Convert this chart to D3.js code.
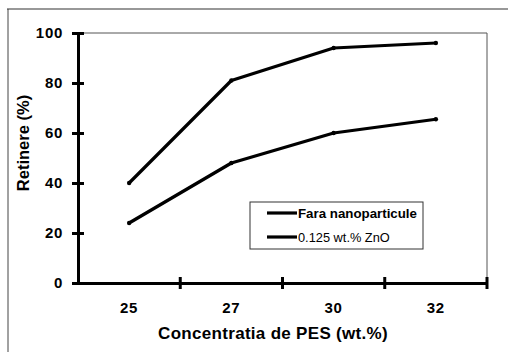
<!DOCTYPE html>
<html>
<head>
<meta charset="utf-8">
<script src="https://cdn.jsdelivr.net/npm/d3@7"></script>
<style>
  html, body { margin: 0; padding: 0; background: #fff; }
  svg { display: block; font-family: "Liberation Sans", Arial, sans-serif; }
</style>
</head>
<body>
<svg id="chart" width="508" height="352"></svg>
<script>
// Concentration of PES (wt.%) on the x axis
const categories = ["25", "27", "30", "32"];
// Retention (%) for each membrane series
const seriesNames = ["Fara nanoparticule", "0.125 wt.% ZnO"];
const upperValues = [40, 81, 94, 96];
const lowerValues = [24, 48, 60, 65.5];
const yTicks = [0, 20, 40, 60, 80, 100];

const svg = d3.select("#chart");
const plotLeft = 78, plotRight = 487, plotTop = 33, plotBottom = 283;

const x = d3.scaleBand().domain(categories).range([plotLeft, plotRight]).padding(0);
const y = d3.scaleLinear().domain([0, 100]).range([plotBottom, plotTop]);

// outer frame (left and top edges)
svg.append("line").attr("x1", 8).attr("x2", 8).attr("y1", 9).attr("y2", 352)
  .attr("stroke", "#444").attr("stroke-width", 1);
svg.append("line").attr("x1", 7).attr("x2", 508).attr("y1", 9).attr("y2", 9)
  .attr("stroke", "#333").attr("stroke-width", 1.2);

// plot area border (top and right)
svg.append("line").attr("x1", plotLeft).attr("x2", plotRight).attr("y1", plotTop).attr("y2", plotTop)
  .attr("stroke", "#555").attr("stroke-width", 1);
svg.append("line").attr("x1", plotRight).attr("x2", plotRight).attr("y1", plotTop).attr("y2", plotBottom)
  .attr("stroke", "#555").attr("stroke-width", 1);

// y axis with crossing ticks
const yAxis = svg.append("g").attr("transform", `translate(${plotLeft},0)`)
  .call(d3.axisLeft(y).tickValues(yTicks).tickSize(0).tickPadding(15));
yAxis.select(".domain").attr("stroke", "#000").attr("stroke-width", 3);
yAxis.selectAll(".tick text").attr("font-size", 15).attr("font-weight", "bold")
  .attr("letter-spacing", 0.7).attr("fill", "#000");
yAxis.selectAll(".tick").append("line").attr("x1", -6).attr("x2", 6)
  .attr("stroke", "#000").attr("stroke-width", 3);

// x axis: ticks on band boundaries, labels on band centres
const xAxis = svg.append("g").attr("transform", `translate(0,${plotBottom})`)
  .call(d3.axisBottom(x).tickSize(0).tickPadding(19));
xAxis.select(".domain").attr("stroke", "#000").attr("stroke-width", 3);
xAxis.selectAll(".tick text").attr("font-size", 15).attr("font-weight", "bold")
  .attr("letter-spacing", 0.7).attr("fill", "#000");
xAxis.selectAll(".bound").data(categories).enter().append("line")
  .attr("x1", d => x(d) + x.bandwidth()).attr("x2", d => x(d) + x.bandwidth())
  .attr("y1", -6).attr("y2", 6)
  .attr("stroke", "#000").attr("stroke-width", 3);

// axis titles
svg.append("text").attr("x", 273).attr("y", 339).attr("text-anchor", "middle")
  .attr("font-size", 17).attr("font-weight", "bold").attr("letter-spacing", 0.3)
  .text("Concentratia de PES (wt.%)");
svg.append("text").attr("transform", "translate(29,143) rotate(-90)")
  .attr("text-anchor", "middle").attr("font-size", 16.5).attr("font-weight", "bold")
  .text("Retinere (%)");

// series lines
const line = d3.line().x((d, i) => x(categories[i]) + x.bandwidth() / 2).y(d => y(d));
[upperValues, lowerValues].forEach(vals => {
  svg.append("path").datum(vals).attr("d", line)
    .attr("fill", "none").attr("stroke", "#000").attr("stroke-width", 3.2)
    .attr("stroke-linejoin", "round");
  svg.selectAll(null).data(vals).enter().append("circle")
    .attr("cx", (d, i) => x(categories[i]) + x.bandwidth() / 2).attr("cy", d => y(d))
    .attr("r", 2.2).attr("fill", "#000");
});

// legend
const lg = svg.append("g");
lg.append("rect").attr("x", 250).attr("y", 202).attr("width", 173).attr("height", 47)
  .attr("fill", "#fff").attr("stroke", "#333").attr("stroke-width", 1);
seriesNames.forEach((name, i) => {
  const ly = 213 + i * 24;
  lg.append("line").attr("x1", 267).attr("x2", 297).attr("y1", ly).attr("y2", ly)
    .attr("stroke", "#000").attr("stroke-width", 3.2);
  lg.append("text").attr("x", 298).attr("y", ly + 4.5)
    .attr("font-size", i === 0 ? 13.3 : 12.8)
    .attr("font-weight", i === 0 ? "bold" : "normal").text(name);
});
</script>
</body>
</html>
